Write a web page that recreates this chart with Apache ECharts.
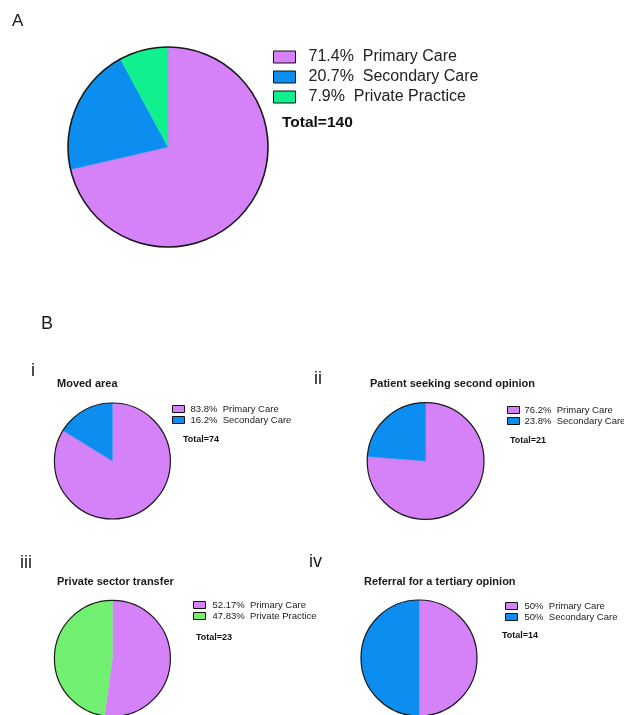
<!DOCTYPE html>
<html>
<head>
<meta charset="utf-8">
<script src="https://cdn.jsdelivr.net/npm/echarts@6/dist/echarts.min.js"></script>
<style>
  html, body { margin: 0; padding: 0; background: #ffffff; }
  #chart { width: 624px; height: 715px; }
</style>
</head>
<body>
<div id="chart"></div>
<script>
// ---------------- DATA ----------------
const categoriesA = ['Primary Care', 'Secondary Care', 'Private Practice'];
const percentA = [71.4, 20.7, 7.9];
const totalA = 140;

const titleI = 'Moved area';
const categoriesI = ['Primary Care', 'Secondary Care'];
const percentI = [83.8, 16.2];
const totalI = 74;

const titleII = 'Patient seeking second opinion';
const categoriesII = ['Primary Care', 'Secondary Care'];
const percentII = [76.2, 23.8];
const totalII = 21;

const titleIII = 'Private sector transfer';
const categoriesIII = ['Primary Care', 'Private Practice'];
const percentIII = [52.17, 47.83];
const totalIII = 23;

const titleIV = 'Referral for a tertiary opinion';
const categoriesIV = ['Primary Care', 'Secondary Care'];
const percentIV = [50, 50];
const totalIV = 14;

// ---------------- STYLE ----------------
const FONT = 'Liberation Sans, Arial, sans-serif';
const PURPLE = '#d581f8';
const BLUE = '#0b8ef0';
const MINT = '#10f08e';
const LIGHTGREEN = '#72f072';
const colorOf = {
  A: { 'Primary Care': PURPLE, 'Secondary Care': BLUE, 'Private Practice': MINT },
  B: { 'Primary Care': PURPLE, 'Secondary Care': BLUE, 'Private Practice': LIGHTGREEN }
};

const panels = [
  { key: 'A', cats: categoriesA, pct: percentA, total: totalA, palette: 'A',
    center: [168, 147], r: 100, outline: 1.6,
    legend: { left: 273, top: 49, iw: 22, ih: 12, gap: 4, fs: 16, lh: 16, pad: 8 },
    totalText: { left: 282, cy: 123, fs: 15.5 } },
  { key: 'i', cats: categoriesI, pct: percentI, total: totalI, palette: 'B', title: titleI,
    center: [112.4, 461], r: 58, outline: 1.2,
    legend: { left: 172, top: 404, iw: 12, ih: 7, gap: 1, fs: 9.5, lh: 10, pad: 1 },
    totalText: { left: 183, cy: 440, fs: 9 } },
  { key: 'ii', cats: categoriesII, pct: percentII, total: totalII, palette: 'B', title: titleII,
    center: [425.6, 461], r: 58.4, outline: 1.2,
    legend: { left: 507, top: 405, iw: 12, ih: 7, gap: 1, fs: 9.5, lh: 10, pad: 0 },
    totalText: { left: 510, cy: 441, fs: 9 } },
  { key: 'iii', cats: categoriesIII, pct: percentIII, total: totalIII, palette: 'B', title: titleIII,
    center: [112.4, 658.4], r: 58, outline: 1.2,
    legend: { left: 193, top: 600, iw: 12, ih: 7, gap: 1, fs: 9.5, lh: 10, pad: 2 },
    totalText: { left: 196, cy: 637.5, fs: 9 } },
  { key: 'iv', cats: categoriesIV, pct: percentIV, total: totalIV, palette: 'B', title: titleIV,
    center: [419, 658], r: 58, outline: 1.2,
    legend: { left: 505, top: 601, iw: 12, ih: 7, gap: 1, fs: 9.5, lh: 10, pad: 2 },
    totalText: { left: 502, cy: 636, fs: 9 } }
];

// panel labels and subtitles (text positions: left, vertical centre, size)
const headings = [
  { text: 'A', left: 12, cy: 21, fs: 17, w: 'normal' },
  { text: 'B', left: 41, cy: 324, fs: 18, w: 'normal' },
  { text: 'i', left: 31, cy: 371, fs: 18, w: 'normal' },
  { text: 'ii', left: 314, cy: 379, fs: 18, w: 'normal' },
  { text: 'iii', left: 20, cy: 563, fs: 18, w: 'normal' },
  { text: 'iv', left: 309, cy: 562, fs: 18, w: 'normal' },
  { text: titleI, left: 57, cy: 384, fs: 11, w: 'bold' },
  { text: titleII, left: 370, cy: 384, fs: 11, w: 'bold' },
  { text: titleIII, left: 57, cy: 582, fs: 11, w: 'bold' },
  { text: titleIV, left: 364, cy: 582, fs: 11, w: 'bold' }
];

function fmtPct(v) { return String(v) + '%'; }

const labelMap = {};
const series = [];
const legends = [];
const titles = [];

headings.forEach(h => {
  titles.push({
    text: h.text, left: h.left, top: h.cy - h.fs / 2, padding: 0,
    textStyle: { fontFamily: FONT, fontSize: h.fs, lineHeight: h.fs, fontWeight: h.w, color: '#1a1a1a' }
  });
});

panels.forEach(p => {
  const names = p.cats.map(c => p.key + ':' + c);
  p.cats.forEach((c, i) => { labelMap[names[i]] = fmtPct(p.pct[i]) + '  ' + c; });
  series.push({
    type: 'pie', center: p.center, radius: p.r, startAngle: 90, clockwise: true,
    label: { show: false }, labelLine: { show: false }, silent: true,
    emphasis: { disabled: true },
    data: p.cats.map((c, i) => ({
      name: names[i], value: p.pct[i],
      itemStyle: { color: colorOf[p.palette][c], borderColor: colorOf[p.palette][c], borderWidth: 0.4 }
    }))
  });
  // outer outline: one full slice carrying the panel total
  series.push({
    type: 'pie', center: p.center, radius: p.r, startAngle: 90, z: 5,
    label: { show: false }, labelLine: { show: false }, silent: true,
    emphasis: { disabled: true },
    data: [{ name: p.key + ':Total', value: p.total,
      itemStyle: { color: 'rgba(0,0,0,0)', borderColor: '#1a1a1a', borderWidth: p.outline } }]
  });
  legends.push({
    data: names, orient: 'vertical', left: p.legend.left, top: p.legend.top, padding: 0,
    icon: 'rect', itemWidth: p.legend.iw, itemHeight: p.legend.ih, itemGap: p.legend.gap,
    selectedMode: false,
    itemStyle: { borderColor: '#111', borderWidth: 1 },
    formatter: n => labelMap[n],
    textStyle: { fontFamily: FONT, fontSize: p.legend.fs, lineHeight: p.legend.lh, color: '#222',
      padding: [0, 0, 0, p.legend.pad] }
  });
  titles.push({
    text: 'Total=' + p.total, left: p.totalText.left, top: p.totalText.cy - p.totalText.fs / 2, padding: 0,
    textStyle: { fontFamily: FONT, fontSize: p.totalText.fs, lineHeight: p.totalText.fs, fontWeight: 'bold', color: '#111' }
  });
});

const chart = echarts.init(document.getElementById('chart'), null, { renderer: 'canvas' });
chart.setOption({
  backgroundColor: '#ffffff',
  animation: false,
  title: titles,
  legend: legends,
  series: series
});
</script>
</body>
</html>
